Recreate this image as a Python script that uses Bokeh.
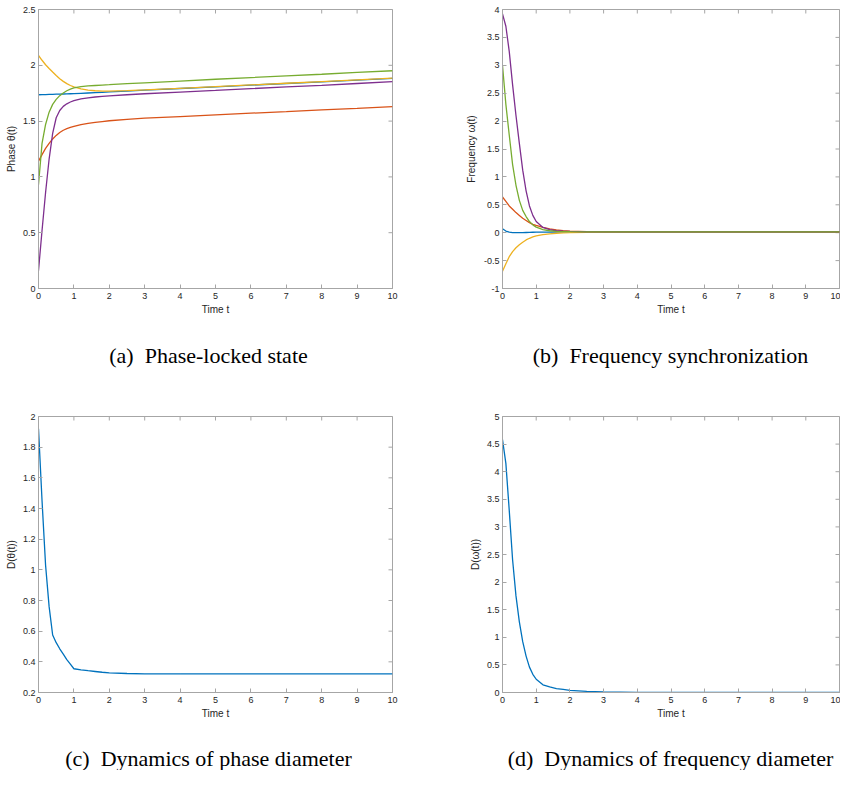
import math
from bokeh.plotting import figure
from bokeh.layouts import column, row
from bokeh.models import FixedTicker, CustomJSTickFormatter, Range1d, ColumnDataSource
from bokeh.core.properties import value
from bokeh.embed import file_html
from bokeh.resources import INLINE

# ---------------- data ----------------
t = [0, 0.1, 0.2, 0.3, 0.4, 0.5, 0.6, 0.7, 0.8, 0.9, 1.0,
     1.2, 1.4, 1.6, 1.8, 2.0, 2.5, 3, 4, 5, 6, 7, 8, 9, 10]

# (a) phases
phase_blue = [1.736, 1.737, 1.738, 1.739, 1.740, 1.741, 1.742, 1.743, 1.744, 1.745, 1.746,
              1.749, 1.752, 1.755, 1.758, 1.761, 1.769, 1.777, 1.792, 1.807, 1.822, 1.837, 1.852, 1.867, 1.883]
phase_orange = [1.14, 1.20, 1.255, 1.30, 1.34, 1.372, 1.398, 1.418, 1.432, 1.443, 1.453,
                1.468, 1.479, 1.488, 1.496, 1.503, 1.516, 1.526, 1.541, 1.556, 1.571, 1.585, 1.600, 1.614, 1.629]
phase_yellow = [2.088, 2.045, 2.005, 1.972, 1.940, 1.909, 1.880, 1.856, 1.836, 1.819, 1.806,
                1.789, 1.778, 1.772, 1.769, 1.769, 1.773, 1.779, 1.794, 1.809, 1.824, 1.839, 1.854, 1.869, 1.885]
phase_purple = [0.16, 0.52, 0.86, 1.16, 1.39, 1.53, 1.595, 1.632, 1.655, 1.671, 1.683,
                1.699, 1.709, 1.716, 1.721, 1.726, 1.736, 1.745, 1.760, 1.775, 1.791, 1.806, 1.821, 1.837, 1.853]
phase_green = [0.93, 1.30, 1.47, 1.58, 1.65, 1.695, 1.728, 1.752, 1.772, 1.787, 1.798,
               1.809, 1.815, 1.819, 1.823, 1.826, 1.835, 1.843, 1.859, 1.875, 1.890, 1.905, 1.920, 1.936, 1.951]

# (b) frequencies
freq_blue = [0.07, 0.03, 0.01, 0.002, 0.0, 0.0, 0.002, 0.004, 0.006, 0.008, 0.009,
             0.011, 0.012, 0.012, 0.013, 0.013, 0.014, 0.014, 0.015, 0.015, 0.015, 0.015, 0.015, 0.015, 0.015]
freq_orange = [0.64, 0.56, 0.48, 0.42, 0.36, 0.31, 0.26, 0.22, 0.18, 0.15, 0.13,
               0.095, 0.068, 0.050, 0.038, 0.030, 0.020, 0.016, 0.015, 0.015, 0.015, 0.015, 0.015, 0.015, 0.015]
freq_yellow = [-0.69, -0.555, -0.43, -0.34, -0.27, -0.215, -0.17, -0.13, -0.10, -0.075, -0.057,
               -0.035, -0.020, -0.010, -0.003, 0.0, 0.008, 0.012, 0.014, 0.015, 0.015, 0.015, 0.015, 0.015, 0.015]
freq_purple = [3.92, 3.70, 3.25, 2.65, 2.10, 1.60, 1.12, 0.75, 0.48, 0.31, 0.20,
               0.095, 0.055, 0.035, 0.027, 0.022, 0.017, 0.016, 0.015, 0.015, 0.015, 0.015, 0.015, 0.015, 0.015]
freq_green = [3.00, 2.30, 1.75, 1.22, 0.85, 0.58, 0.40, 0.29, 0.20, 0.14, 0.10,
              0.055, 0.035, 0.025, 0.020, 0.018, 0.016, 0.015, 0.015, 0.015, 0.015, 0.015, 0.015, 0.015, 0.015]

# (c) phase diameter, (d) frequency diameter
diam_phase = [1.92, 1.45, 1.03, 0.76, 0.575, 0.525, 0.485, 0.45, 0.415, 0.385, 0.355,
              0.348, 0.342, 0.337, 0.332, 0.328, 0.324, 0.322, 0.321, 0.321, 0.321, 0.321, 0.321, 0.321, 0.321]
diam_freq = [4.58, 4.15, 3.30, 2.40, 1.75, 1.28, 0.92, 0.66, 0.46, 0.33, 0.24,
             0.14, 0.10, 0.07, 0.055, 0.04, 0.02, 0.01, 0.003, 0.001, 0.0, 0.0, 0.0, 0.0, 0.0]

x_ticks = [0, 1, 2, 3, 4, 5, 6, 7, 8, 9, 10]
yticks_a = [0, 0.5, 1, 1.5, 2, 2.5]
yticks_b = [-1, -0.5, 0, 0.5, 1, 1.5, 2, 2.5, 3, 3.5, 4]
yticks_c = [0.2, 0.4, 0.6, 0.8, 1, 1.2, 1.4, 1.6, 1.8, 2]
yticks_d = [0, 0.5, 1, 1.5, 2, 2.5, 3, 3.5, 4, 4.5, 5]

captions = ["(a)\u00a0 Phase-locked state", "(b)\u00a0 Frequency synchronization",
            "(c)\u00a0 Dynamics of phase diameter", "(d)\u00a0 Dynamics of frequency diameter"]

COLORS = ["#0072BD", "#D95319", "#EDB120", "#7E2F8E", "#77AC30"]
AX = "#a6a6a6"
TXT = "#262626"
SANS = "Liberation Sans"
SERIF = "Liberation Serif"


def style_axis(ax, ticks):
    ax.ticker = FixedTicker(ticks=ticks)
    ax.formatter = CustomJSTickFormatter(code="return String(Number(tick.toFixed(3)));")
    ax.axis_line_color = AX
    ax.major_tick_line_color = AX
    ax.major_tick_in = 4
    ax.major_tick_out = 0
    ax.minor_tick_line_color = None
    ax.axis_label_text_font = SANS
    ax.axis_label_text_font_style = "normal"
    ax.axis_label_text_font_size = "10px"
    ax.axis_label_text_color = TXT
    ax.major_label_text_font = SANS
    ax.major_label_text_font_size = "9px"
    ax.major_label_text_color = TXT


def panel(width, height, left, right, top, bottom, yr, yticks, ylabel, ystand):
    p = figure(width=width, height=height, output_backend="svg", toolbar_location=None,
               x_range=Range1d(0, 10), y_range=Range1d(*yr), title=None,
               min_border_left=left, min_border_right=right,
               min_border_top=top, min_border_bottom=bottom)
    p.xgrid.visible = False
    p.ygrid.visible = False
    p.outline_line_color = AX
    p.background_fill_color = "white"
    p.border_fill_color = "white"
    style_axis(p.xaxis[0], x_ticks)
    style_axis(p.yaxis[0], yticks)
    p.xaxis[0].major_label_standoff = 4
    p.yaxis[0].major_label_standoff = 3
    p.xaxis[0].axis_label = "Time t"
    p.yaxis[0].axis_label = ylabel
    p.xaxis[0].axis_label_standoff = 2
    p.yaxis[0].axis_label_standoff = ystand
    # inward tick marks on the top and right edges of the box (clipped to the frame)
    p.scatter(x=x_ticks, y=[yr[1]] * len(x_ticks), marker="dash", size=8, angle=math.pi / 2,
              line_color=AX, line_width=1)
    p.scatter(x=[10] * len(yticks), y=yticks, marker="dash", size=8,
              line_color=AX, line_width=1)
    return p


def add_lines(p, series):
    for ys, c in zip(series, COLORS):
        src = ColumnDataSource(dict(x=t, y=ys))
        p.line("x", "y", source=src, line_color=c, line_width=1.3)


def caption(width, height, cx, cy, text):
    c = figure(width=width, height=height, output_backend="svg", toolbar_location=None,
               x_range=Range1d(0, width), y_range=Range1d(0, height), title=None,
               min_border=0, x_axis_type=None, y_axis_type=None)
    c.xgrid.visible = False
    c.ygrid.visible = False
    c.outline_line_color = None
    c.text(x=[cx], y=[height - cy], text=[text], text_align="center", text_baseline="middle",
           text_font=value(SERIF), text_font_size="22px", text_color="black")
    return c


# left column width 430 (frame 38..392), right column 410 (frame 502..839)
pa = panel(430, 320, 38, 38, 9, 32, (0, 2.5), yticks_a, "Phase θ(t)", 3)
add_lines(pa, [phase_blue, phase_orange, phase_yellow, phase_purple, phase_green])
pb = panel(410, 320, 72, 1, 9, 32, (-1, 4), yticks_b, "Frequency ω(t)", 4)
add_lines(pb, [freq_blue, freq_orange, freq_yellow, freq_purple, freq_green])

ca = caption(430, 68, 208, 35, captions[0])
cb = caption(410, 68, 240, 35, captions[1])

pc = panel(430, 338, 38, 38, 28, 34, (0.2, 2), yticks_c, "D(θ(t))", 3)
pc.line(t, diam_phase, line_color=COLORS[0], line_width=1.3)
pd = panel(410, 338, 72, 1, 28, 34, (0, 5), yticks_d, "D(ω(t))", 3)
pd.line(t, diam_freq, line_color=COLORS[0], line_width=1.3)

cc = caption(430, 44, 208, 32, captions[2])
cd = caption(410, 44, 240, 32, captions[3])

layout = column(row(pa, pb, spacing=0), row(ca, cb, spacing=0),
                row(pc, pd, spacing=0), row(cc, cd, spacing=0), spacing=0)

open("out.html", "w").write(file_html(layout, INLINE))
